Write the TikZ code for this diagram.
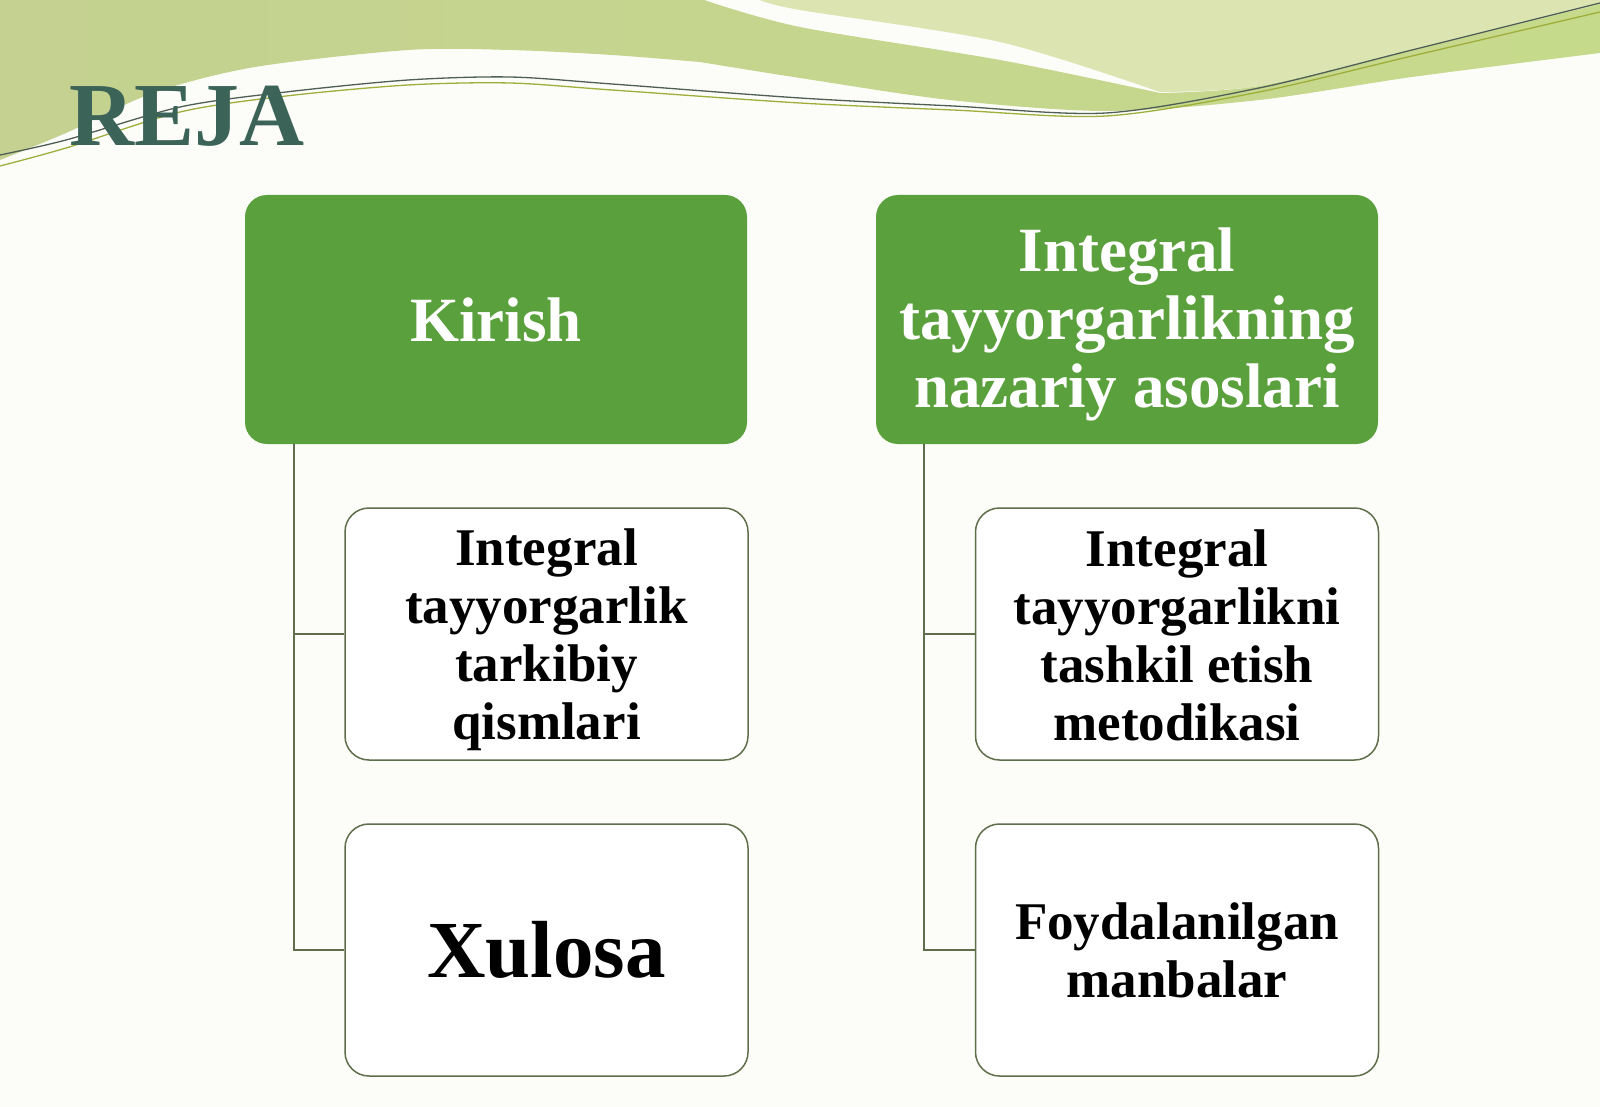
\documentclass[tikz,border=0pt]{standalone}
\usepackage{fontspec}
\setmainfont{Liberation Serif}
\usetikzlibrary{calc}
\definecolor{bgc}{HTML}{FCFDF8}
\definecolor{boxgreen}{HTML}{5AA03C}
\definecolor{boxline}{HTML}{5F6E4B}
\definecolor{rejac}{HTML}{3C6358}
\definecolor{olivL}{HTML}{C4D190}
\definecolor{olivR}{HTML}{C6DA8C}
\definecolor{lightR}{HTML}{DCE5B2}
\definecolor{lineA}{HTML}{4F5F55}
\definecolor{lineB}{HTML}{9FAE3A}
\begin{document}
\begin{tikzpicture}[x=1pt,y=-1pt,
  greenbox/.style={rectangle, rounded corners=22pt, fill=boxgreen,
    minimum width=502pt, minimum height=249pt, inner sep=0pt,
    align=center, text=white, font=\fontsize{63}{69}\selectfont\bfseries},
  greentext/.style={inner sep=0pt, align=center, text=white,
    font=\fontsize{63}{68}\selectfont\bfseries},
  childbox/.style={rectangle, rounded corners=24pt, draw=boxline,
    line width=1.5pt, fill=white, minimum width=403pt, minimum height=252pt,
    inner sep=0pt, align=center, text=black,
    font=\fontsize{53}{58}\selectfont\bfseries},
  childtext/.style={inner sep=0pt, align=center, text=black,
    font=\fontsize{53}{58}\selectfont\bfseries},
  conn/.style={draw=boxline, line width=1.5pt},
  curveA/.style={draw=lineA, line width=1.3pt},
  curveB/.style={draw=lineB, line width=1.3pt}]
\useasboundingbox (0,0) rectangle (1600,1107);
\fill[bgc] (0,0) rectangle (1600,1107);
% background waves
\shade[left color=olivL, right color=olivR]
  (0,0) -- (704,0)
  -- plot[smooth,tension=0.5] coordinates {(704,0) (800,27) (1000,60) (1160,93)}
  -- plot[smooth,tension=0.5] coordinates {(1160,93) (1259,86) (1412,50) (1600,4)}
  -- (1600,53)
  -- plot[smooth,tension=0.5] coordinates {(1600,53) (1412,77) (1259,100) (1106,111) (950,100) (800,78) (700,62)}
  -- plot[smooth,tension=0.5] coordinates {(700,62) (612,55) (510,50) (408,50) (255,67) (153,93) (66,133) (0,160)}
  -- cycle;
\fill[lightR]
  (760,0) -- (1600,0) -- (1600,4)
  -- plot[smooth,tension=0.5] coordinates {(1600,4) (1412,50) (1259,86) (1160,92)}
  -- plot[smooth,tension=0.5] coordinates {(1160,92) (1000,42) (800,10) (760,0)}
  -- cycle;
\draw[curveB] plot[smooth,tension=0.5] coordinates {(0,166) (66,148) (180,112) (286,96) (408,85) (510,83) (612,90) (800,103) (953,110) (1106,116) (1259,92) (1412,56) (1600,12)};
\draw[curveA] plot[smooth,tension=0.5] coordinates {(0,155) (66,140) (180,107) (286,92) (408,80) (510,77) (612,84) (800,98) (953,106) (1106,113) (1259,88) (1412,50) (1600,3)};
% title
\node[anchor=base west, inner sep=0pt, text=rejac,
  font=\fontsize{90}{90}\selectfont\bfseries] (reja) at (69,146) {REJA};
% boxes
\node[greenbox] (kirish) at (496,319.5) {Kirish};
\node[greenbox] (nazariy) at (1127,319.5) {};
\node[greentext] (nazariyt) at ($(nazariy.center)+(0,5)$) {Integral\\tayyorgarlikning\\nazariy asoslari};
\node[childbox] (tarkib) at (546.5,634) {};
\node[childtext] (tarkibt) at ($(tarkib.center)+(0,6)$) {Integral\\tayyorgarlik\\tarkibiy\\qismlari};
\node[childbox, font=\fontsize{81}{90}\selectfont\bfseries] (xulosa) at (546.5,950) {Xulosa};
\node[childbox] (metod) at (1177,634) {};
\node[childtext] (metodt) at ($(metod.center)+(0,1)$) {Integral\\tayyorgarlikni\\tashkil etish\\metodikasi};
\node[childbox] (manba) at (1177,950) {Foydalanilgan\\manbalar};
% connectors
\coordinate (lk) at ($(kirish.south west)+(49,0)$);
\coordinate (rk) at ($(nazariy.south west)+(48,0)$);
\draw[conn] (lk) |- (tarkib.west);
\draw[conn] (lk) |- (xulosa.west);
\draw[conn] (rk) |- (metod.west);
\draw[conn] (rk) |- (manba.west);
\end{tikzpicture}
\end{document}
